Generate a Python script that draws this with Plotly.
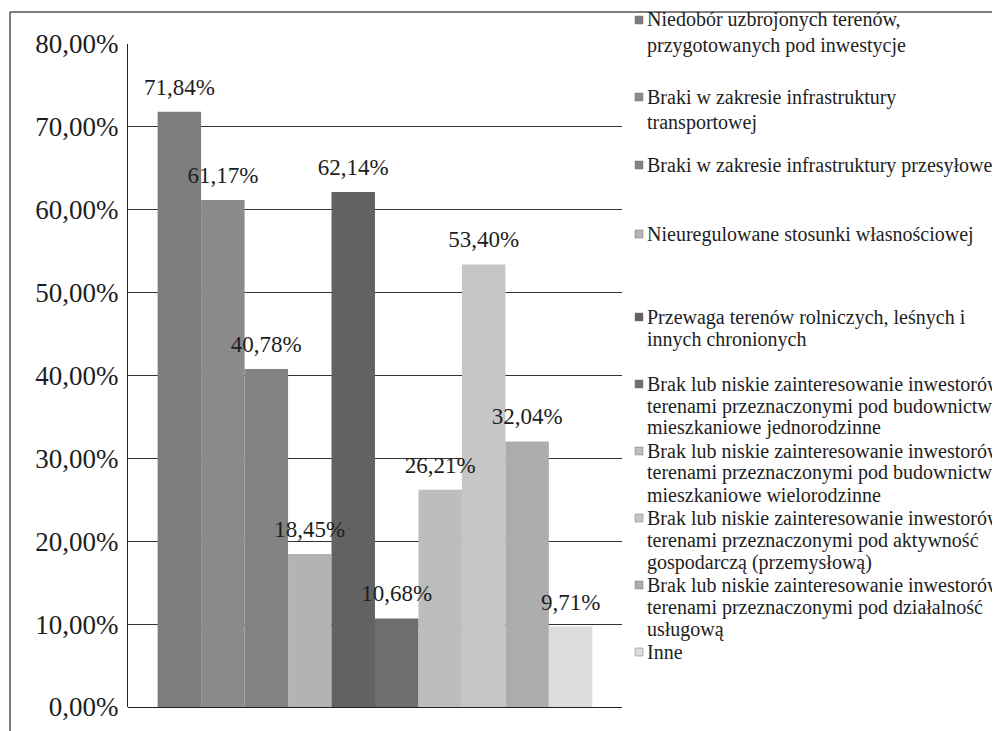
import plotly.graph_objects as go

# ---- data ----
series_lines = [
    ["Niedobór uzbrojonych terenów,", "przygotowanych pod inwestycje"],
    ["Braki w zakresie infrastruktury", "transportowej"],
    ["Braki w zakresie infrastruktury przesyłowej"],
    ["Nieuregulowane stosunki własnościowej"],
    ["Przewaga terenów rolniczych, leśnych i", "innych chronionych"],
    ["Brak lub niskie zainteresowanie inwestorów",
     "terenami przeznaczonymi pod budownictwo", "mieszkaniowe jednorodzinne"],
    ["Brak lub niskie zainteresowanie inwestorów",
     "terenami przeznaczonymi pod budownictwo", "mieszkaniowe wielorodzinne"],
    ["Brak lub niskie zainteresowanie inwestorów",
     "terenami przeznaczonymi pod aktywność", "gospodarczą (przemysłową)"],
    ["Brak lub niskie zainteresowanie inwestorów",
     "terenami przeznaczonymi pod działalność", "usługową"],
    ["Inne"],
]
values = [71.84, 61.17, 40.78, 18.45, 62.14, 10.68, 26.21, 53.40, 32.04, 9.71]
colors = ["#7d7d7d", "#8b8b8b", "#838383", "#b3b3b3", "#626262",
          "#6e6e6e", "#bdbdbd", "#c6c6c6", "#adadad", "#dcdcdc"]
category = [""]

SERIF = "Liberation Serif"
TXT = "#1e1e1e"

# ---- layout geometry (pixels in figure) ----
L, T, PW, PH = 120, 36, 494, 663
W, H = 1000, 731
Y_MAX = 80
PX_PER_UNIT = PH / Y_MAX

def px_x(x):
    return (x - L) / PW

def px_y(y):
    return (T + PH - y) / PH

fig = go.Figure()

# coloured bars
for i, (lines, v, c) in enumerate(zip(series_lines, values, colors)):
    fig.add_trace(go.Bar(
        x=category, y=[v], offsetgroup=str(i), name=" ".join(lines),
        showlegend=False, marker=dict(color=c, line=dict(width=0)),
    ))
# data labels on top of everything (transparent spacer bars above each value)
label_pad = 9 / PX_PER_UNIT
for i, v in enumerate(values):
    fig.add_trace(go.Bar(
        x=category, y=[label_pad], base=[v], offsetgroup=str(i),
        showlegend=False,
        marker=dict(color="rgba(0,0,0,0)", line=dict(width=0)),
        text=[f"{v:.2f}".replace(".", ",") + "%"],
        textposition="outside", constraintext="none", cliponaxis=False,
        textfont=dict(family=SERIF, size=23, color=TXT),
        hoverinfo="skip",
    ))

fig.update_layout(
    width=W, height=H,
    paper_bgcolor="white", plot_bgcolor="white",
    margin=dict(l=L, r=W - L - PW, t=T, b=H - T - PH, autoexpand=False),
    barmode="group", bargap=0.12, bargroupgap=0,
    separators=", ",
    font=dict(family=SERIF, color=TXT),
)
fig.update_xaxes(showticklabels=False, showgrid=False, zeroline=False,
                 showline=False)
fig.update_yaxes(range=[0, Y_MAX], dtick=10, tickformat=".2f", ticksuffix="%",
                 showgrid=True, gridcolor="#333", gridwidth=1,
                 zeroline=True, zerolinecolor="#222", zerolinewidth=1,
                 showline=True, linecolor="#222", linewidth=1,
                 ticks="", ticklabelstandoff=3,
                 tickfont=dict(family=SERIF, size=27, color=TXT))

# ---- legend drawn as text lines with small colour squares ----
item_centers = [12, 89, 157, 226, 309, 376, 443, 510, 577, 644]
line_gaps = [25, 25, 22, 22, 22, 22, 22, 22, 22, 22]
mark_cx, mark_sz, text_x = 631, 8, 637
for lines, c, yc, gap in zip(series_lines, colors, item_centers, line_gaps):
    fig.add_shape(type="rect", xref="paper", yref="paper",
                  x0=px_x(mark_cx - mark_sz / 2), x1=px_x(mark_cx + mark_sz / 2),
                  y0=px_y(yc - mark_sz / 2), y1=px_y(yc + mark_sz / 2),
                  fillcolor=c, line=dict(color="#777", width=0.5))
    for k, ln in enumerate(lines):
        fig.add_annotation(xref="paper", yref="paper",
                           x=px_x(text_x), y=px_y(yc + k * gap),
                           xanchor="left", yanchor="middle", showarrow=False,
                           text=ln, font=dict(family=SERIF, size=20, color=TXT))

# outer frame of the chart (scan border)
fig.add_shape(type="line", xref="paper", yref="paper",
              x0=px_x(2), x1=px_x(2), y0=px_y(4), y1=px_y(H + 5),
              line=dict(color="#555", width=1.5))
fig.add_shape(type="line", xref="paper", yref="paper",
              x0=px_x(2), x1=px_x(W + 5), y0=px_y(4), y1=px_y(4),
              line=dict(color="#555", width=1.5))

fig.write_html("out.html")
